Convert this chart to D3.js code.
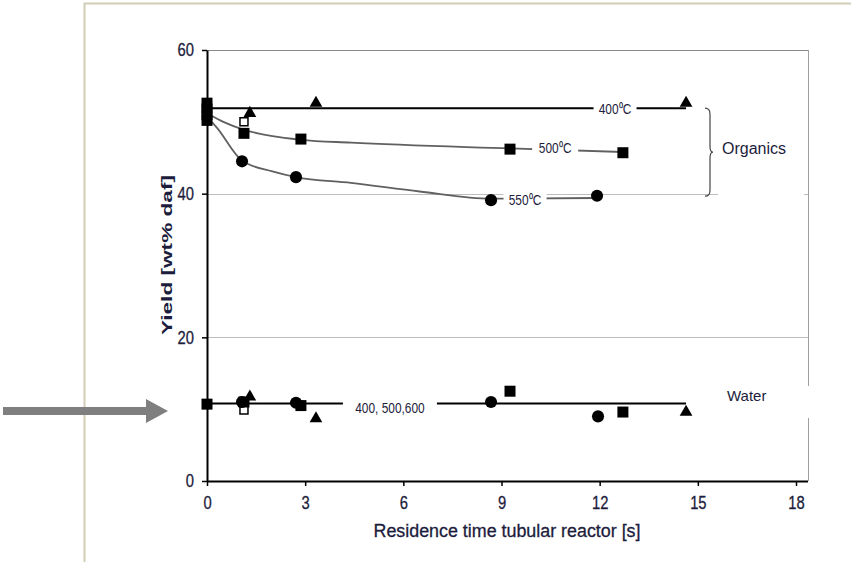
<!DOCTYPE html>
<html>
<head>
<meta charset="utf-8">
<script src="https://cdn.jsdelivr.net/npm/d3@7"></script>
<style>
  body { margin: 0; background: #fff; }
  svg { display: block; }
</style>
</head>
<body>
<div id="chart"></div>
<script>
// axis ticks
const xTicks = [0, 3, 6, 9, 12, 15, 18];
const yTicks = [0, 20, 40, 60];

// organics yield [time s, wt%]
const org400Tri = [[1.31, 51.2], [3.33, 52.6], [14.64, 52.6]];
const org500Sq = [[0, 52.6], [0, 51.8], [0, 51.0], [0, 50.2], [1.13, 48.4], [2.87, 47.6], [9.26, 46.2], [12.71, 45.7]];
const org500Open = [[1.13, 50.0]];
const org550Circ = [[1.07, 44.5], [2.72, 42.3], [8.68, 39.1], [11.92, 39.7]];

// water yield
const waterSq = [[0, 10.7], [1.13, 11.0], [2.87, 10.5], [9.26, 12.5], [12.71, 9.6]];
const waterOpen = [[1.13, 9.9]];
const waterCirc = [[1.07, 11.0], [2.72, 10.9], [8.68, 11.0], [11.95, 9.0]];
const waterTri = [[1.31, 11.7], [3.33, 8.7], [14.64, 9.6]];

// hand drawn trend lines as in the figure
const fit400 = [[0, 51.9], [14.64, 51.9]];
const fit500 = [[0, 51.2], [0.5, 50.0], [1.13, 48.9], [2, 48.0], [2.87, 47.5], [4.4, 47.1], [9.26, 46.3], [12.71, 45.8]];
const fit550 = [[0, 50.7], [0.3, 49.2], [1.07, 44.6], [2, 43.1], [2.72, 42.3], [4.4, 41.5], [6.5, 40.3], [8.68, 39.3], [11.92, 39.4]];
const fitWater = [[0, 10.8], [14.64, 10.8]];

// line labels: text, time, yield, box width
const lineLabels = [
  {txt: "400\u2070C", t: 12.47, v: 51.9, w: 43},
  {txt: "500\u2070C", t: 10.64, v: 46.4, w: 46},
  {txt: "550\u2070C", t: 9.72, v: 39.1, w: 43},
  {txt: "400, 500,600", t: 5.59, v: 10.2, w: 94}
];

const W = 851, H = 562;
const svg = d3.select("#chart").append("svg")
    .attr("width", W)
    .attr("height", H);

const x = d3.scaleLinear().domain([0, 18]).range([207, 796]);
const y = d3.scaleLinear().domain([0, 60]).range([481, 50]);
const font = "'Liberation Sans', Arial, sans-serif";
const inkText = "#1c1c3c";

// squeeze a text horizontally, the figure uses a narrow face
function squeeze(sel, k) {
  sel.each(function() {
    const len = this.getComputedTextLength();
    d3.select(this).attr("textLength", len * k).attr("lengthAdjust", "spacingAndGlyphs");
  });
}

// slide frame
svg.append("path")
    .attr("d", "M84.5,562 V3.5 H851")
    .attr("fill", "none")
    .attr("stroke", "#d2cdb5")
    .attr("stroke-width", 2);

// gridlines + right border
svg.append("g").selectAll("line")
    .data([20, 40, 60])
  .enter().append("line")
    .attr("x1", x(0)).attr("x2", 808)
    .attr("y1", d => Math.round(y(d)) + 0.5)
    .attr("y2", d => Math.round(y(d)) + 0.5)
    .attr("stroke", d => d == 60 ? "#8a8a8a" : "#bdbdbd")
    .attr("stroke-width", 1);
svg.append("line")
    .attr("x1", 808.5).attr("x2", 808.5)
    .attr("y1", y(60)).attr("y2", y(0))
    .attr("stroke", "#a0a0a0");

// trend lines
const line = d3.line().x(d => x(d[0])).y(d => y(d[1]));
const smooth = d3.line().x(d => x(d[0])).y(d => y(d[1])).curve(d3.curveMonotoneX);
svg.append("path").attr("d", line(fit400)).attr("fill", "none").attr("stroke", "#000").attr("stroke-width", 2);
svg.append("path").attr("d", line(fitWater)).attr("fill", "none").attr("stroke", "#000").attr("stroke-width", 2);
[fit500, fit550].forEach(f => {
  svg.append("path").attr("d", smooth(f)).attr("fill", "none")
      .attr("stroke", "#606060").attr("stroke-width", 1.8);
});

// line labels with white boxes that break the lines
const lab = svg.append("g").selectAll("g")
    .data(lineLabels)
  .enter().append("g")
    .attr("transform", d => "translate(" + x(d.t) + "," + y(d.v) + ")");
lab.append("rect")
    .attr("x", d => -d.w / 2).attr("y", -9)
    .attr("width", d => d.w).attr("height", 18)
    .attr("fill", "#fff");
lab.append("text")
    .attr("text-anchor", "middle")
    .attr("dy", "0.38em")
    .attr("font-family", font)
    .attr("font-size", 14)
    .attr("fill", inkText)
    .text(d => d.txt)
    .call(squeeze, 0.85);

// group labels
svg.append("rect").attr("x", 718).attr("y", 135).attr("width", 86).attr("height", 70).attr("fill", "#fff");
svg.append("rect").attr("x", 722).attr("y", 386).attr("width", 90).attr("height", 32).attr("fill", "#fff");
svg.append("text").attr("x", 722).attr("y", y(45.5))
    .attr("font-family", font)
    .attr("font-size", 16).attr("fill", inkText).text("Organics");
svg.append("text").attr("x", 727).attr("y", y(11.1))
    .attr("font-family", font)
    .attr("font-size", 15).attr("fill", inkText).text("Water");

// brace for organics
const bx = 705;
svg.append("path")
    .attr("d", "M" + bx + "," + y(51.9) + " q5,0 5,6 v32 q0,6 3,6 q-3,0 -3,6 v32 q0,6 -5,6")
    .attr("fill", "none")
    .attr("stroke", "#444")
    .attr("stroke-width", 1.2);

// axes
const xAxis = svg.append("g")
    .attr("transform", "translate(0," + y(0) + ")")
    .call(d3.axisBottom(x).tickValues(xTicks).tickSize(5).tickPadding(10).tickSizeOuter(0));
xAxis.select(".domain").attr("d", "M" + x(0) + ",0.5H808").attr("stroke-width", 2);
const yAxis = svg.append("g")
    .attr("transform", "translate(" + x(0) + ",0)")
    .call(d3.axisLeft(y).tickValues(yTicks).tickSize(5).tickPadding(8).tickSizeOuter(0));
yAxis.select(".domain").attr("stroke-width", 2);
svg.selectAll(".tick text")
    .attr("font-family", font)
    .attr("font-size", 18)
    .attr("fill", inkText)
    .attr("stroke", inkText)
    .attr("stroke-width", 0.3)
    .call(squeeze, 0.82);
svg.selectAll(".tick line").attr("stroke-width", 1.5);

// markers
function marks(data, type, size, fill) {
  svg.append("g").selectAll("path")
      .data(data)
    .enter().append("path")
      .attr("d", d3.symbol().type(type).size(size))
      .attr("transform", d => "translate(" + x(d[0]) + "," + y(d[1]) + ")")
      .attr("fill", fill)
      .attr("stroke", "#000")
      .attr("stroke-width", fill == "#000" ? 0 : 1.5);
}
marks(org500Open, d3.symbolSquare, 64, "#fff");
marks(waterOpen, d3.symbolSquare, 64, "#fff");
marks(org400Tri, d3.symbolTriangle, 70, "#000");
marks(waterTri, d3.symbolTriangle, 70, "#000");
marks(org550Circ, d3.symbolCircle, 115, "#000");
marks(waterCirc, d3.symbolCircle, 115, "#000");
marks(org500Sq, d3.symbolSquare, 121, "#000");
marks(waterSq, d3.symbolSquare, 121, "#000");

// axis titles
svg.append("text")
    .attr("x", 507).attr("y", 537)
    .attr("text-anchor", "middle")
    .attr("font-family", font)
    .attr("font-size", 18)
    .attr("textLength", 267)
    .attr("lengthAdjust", "spacingAndGlyphs")
    .attr("fill", inkText)
    .attr("stroke", inkText)
    .attr("stroke-width", 0.3)
    .text("Residence time tubular reactor [s]");
svg.append("text")
    .attr("transform", "translate(172,255) rotate(-90)")
    .attr("text-anchor", "middle")
    .attr("font-family", font)
    .attr("font-weight", "bold")
    .attr("font-size", 15)
    .attr("textLength", 160)
    .attr("lengthAdjust", "spacingAndGlyphs")
    .attr("fill", inkText)
    .text("Yield [wt% daf]");

// pointer arrow on the left
svg.append("path")
    .attr("d", "M3,407 H146 V399 L168,411 L146,423 V415 H3 Z")
    .attr("fill", "#7f7f7f");
</script>
</body>
</html>
